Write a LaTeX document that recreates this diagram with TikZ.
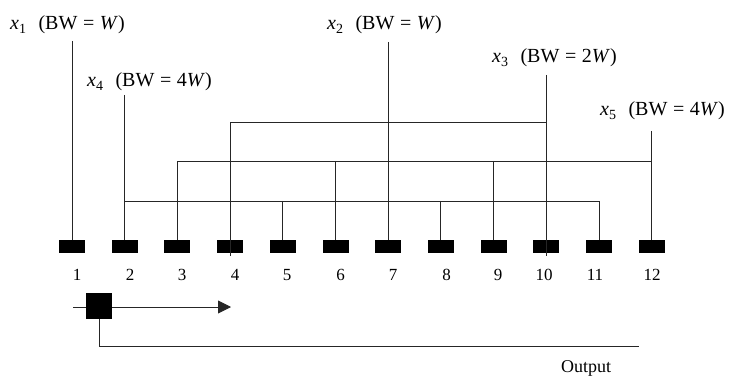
\documentclass[tikz,border=0pt]{standalone}
\usepackage{fontspec}
\setmainfont{Liberation Serif}
\usetikzlibrary{arrows.meta}
\newcommand\bwlbl[2]{\textit{x}\textsubscript{#1}\hspace{0.6em}(BW\hspace{0.28em}=\hspace{0.28em}#2)}
\begin{document}
\begin{tikzpicture}[x=1pt,y=1pt,
  pad/.style={fill=black,draw=none,rectangle,minimum width=26pt,minimum height=13pt,inner sep=0pt},
  wire/.style={line width=0.9pt,black!85},
  lbl/.style={font=\fontsize{20}{22}\selectfont,inner sep=0pt,anchor=base west},
  num/.style={font=\fontsize{17}{20}\selectfont,inner sep=0pt}]
\useasboundingbox (0,0) rectangle (730,-379);
% pads
\foreach \i in {1,...,12}{
  \node[pad] (p\i) at ({72+(\i-1)*52.7},-246.5) {};
}
% pad numbers
\foreach \i/\xx in {1/77,2/130,3/182,4/235,5/287,6/340.5,7/393,8/446.5,9/498,10/544,11/595,12/652}{
  \node[num] (n\i) at (\xx,-275) {\i};
}
% labels
\node[lbl] (L1) at (10,-30) {\bwlbl{1}{\textit{W}}};
\node[lbl] (L4) at (87,-87) {\bwlbl{4}{4\textit{W}}};
\node[lbl] (L2) at (327,-30) {\bwlbl{2}{\textit{W}}};
\node[lbl] (L3) at (492,-63) {\bwlbl{3}{2\textit{W}}};
\node[lbl] (L5) at (600,-116) {\bwlbl{5}{4\textit{W}}};
% tops of the feed lines
\coordinate (t1) at (p1.north |- 0,-41);
\coordinate (t4) at (p2.north |- 0,-95);
\coordinate (t2) at (p7.north |- 0,-42);
\coordinate (t3) at (p10.north |- 0,-75);
\coordinate (t5) at (p12.north |- 0,-131);
% bus coordinates
\coordinate (bl2) at (p2.north |- 0,-201);
\coordinate (bl11) at (p11.north |- 0,-201);
\coordinate (bm3) at (p3.north |- 0,-161);
\coordinate (bm12) at (p12.north |- 0,-161);
\coordinate (bu4) at (p4.north |- 0,-122);
\coordinate (bu10) at (p10.north |- 0,-122);
% x1
\draw[wire] (t1) -- (p1.north);
% x2
\draw[wire] (t2) -- (p7.north);
% x4 : pads 2,5,8,11
\draw[wire] (t4) -- (p2.north);
\draw[wire] (bl2) -- (bl11) -- (p11.north);
\draw[wire] (p5.north |- bl2) -- (p5.north);
\draw[wire] (p8.north |- bl2) -- (p8.north);
% x5 : pads 3,6,9,12
\draw[wire] (t5) -- (p12.north);
\draw[wire] (p3.north) -- (bm3) -- (bm12);
\draw[wire] (p6.north |- bm3) -- (p6.north);
\draw[wire] (p9.north |- bm3) -- (p9.north);
% x3 : pads 4,10
\draw[wire] (t3) -- ([yshift=-3pt]p10.south);
\draw[wire] ([yshift=-3pt]p4.south) -- (bu4) -- (bu10);
% bottom switch
\node[pad,minimum width=26pt,minimum height=26pt] (sq) at (99,-306) {};
\coordinate (in) at (73,-307);
\coordinate (tip) at (231,-307);
\coordinate (corner) at (sq.south |- 0,-346);
\coordinate (outend) at (639,-346);
\draw[wire,-{Triangle[length=13pt,width=13pt]}] (in) -- (tip);
\node[pad,minimum width=26pt,minimum height=26pt] at (sq) {};
\draw[wire] (sq.south) -- (corner) -- (outend);
\node[num,font=\fontsize{18}{20}\selectfont] (out) at (586,-368) {Output};
\end{tikzpicture}
\end{document}
